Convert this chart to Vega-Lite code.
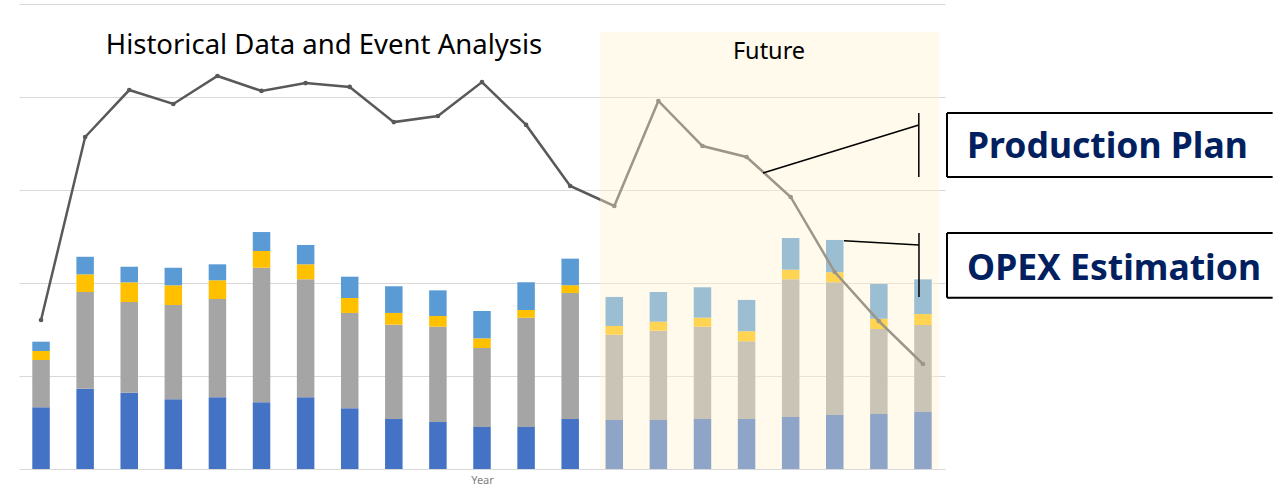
{
  "$schema": "https://vega.github.io/schema/vega-lite/v6.json",
  "width": 926,
  "height": 465,
  "padding": {"left": 19, "top": 4, "right": 0, "bottom": 0},
  "config": {
    "view": {"stroke": null},
    "font": "Noto Sans",
    "axisX": {"labels": false, "ticks": false, "grid": false, "domain": false, "titleColor": "#7f7f7f", "titleFontSize": 11, "titleFontWeight": "normal", "titlePadding": 5},
    "axisY": {"labels": false, "ticks": false, "domain": false, "tickCount": 5, "gridColor": "#d9d9d9", "gridWidth": 1}
  },
  "datasets": {
    "bars": [
      {"i":1,"s":"Series1","v":66.3},{"i":1,"s":"Series2","v":50.9},{"i":1,"s":"Series3","v":9.7},{"i":1,"s":"Series4","v":10.0},
      {"i":2,"s":"Series1","v":86.3},{"i":2,"s":"Series2","v":104.0},{"i":2,"s":"Series3","v":19.0},{"i":2,"s":"Series4","v":18.9},
      {"i":3,"s":"Series1","v":82.0},{"i":3,"s":"Series2","v":97.5},{"i":3,"s":"Series3","v":21.2},{"i":3,"s":"Series4","v":16.8},
      {"i":4,"s":"Series1","v":74.9},{"i":4,"s":"Series2","v":101.4},{"i":4,"s":"Series3","v":21.2},{"i":4,"s":"Series4","v":18.9},
      {"i":5,"s":"Series1","v":77.1},{"i":5,"s":"Series2","v":105.7},{"i":5,"s":"Series3","v":20.1},{"i":5,"s":"Series4","v":17.2},
      {"i":6,"s":"Series1","v":71.7},{"i":6,"s":"Series2","v":144.7},{"i":6,"s":"Series3","v":18.0},{"i":6,"s":"Series4","v":20.4},
      {"i":7,"s":"Series1","v":77.1},{"i":7,"s":"Series2","v":126.9},{"i":7,"s":"Series3","v":16.1},{"i":7,"s":"Series4","v":20.8},
      {"i":8,"s":"Series1","v":65.3},{"i":8,"s":"Series2","v":102.5},{"i":8,"s":"Series3","v":16.1},{"i":8,"s":"Series4","v":22.9},
      {"i":9,"s":"Series1","v":53.8},{"i":9,"s":"Series2","v":101.4},{"i":9,"s":"Series3","v":12.6},{"i":9,"s":"Series4","v":28.7},
      {"i":10,"s":"Series1","v":50.5},{"i":10,"s":"Series2","v":102.5},{"i":10,"s":"Series3","v":11.5},{"i":10,"s":"Series4","v":27.6},
      {"i":11,"s":"Series1","v":45.2},{"i":11,"s":"Series2","v":84.9},{"i":11,"s":"Series3","v":10.4},{"i":11,"s":"Series4","v":29.4},
      {"i":12,"s":"Series1","v":45.2},{"i":12,"s":"Series2","v":117.5},{"i":12,"s":"Series3","v":8.3},{"i":12,"s":"Series4","v":29.8},
      {"i":13,"s":"Series1","v":53.8},{"i":13,"s":"Series2","v":135.5},{"i":13,"s":"Series3","v":8.3},{"i":13,"s":"Series4","v":28.6},
      {"i":14,"s":"Series1","v":52.7},{"i":14,"s":"Series2","v":91.7},{"i":14,"s":"Series3","v":9.4},{"i":14,"s":"Series4","v":31.2},
      {"i":15,"s":"Series1","v":52.7},{"i":15,"s":"Series2","v":96.0},{"i":15,"s":"Series3","v":9.7},{"i":15,"s":"Series4","v":31.9},
      {"i":16,"s":"Series1","v":53.8},{"i":16,"s":"Series2","v":99.2},{"i":16,"s":"Series3","v":9.7},{"i":16,"s":"Series4","v":32.7},
      {"i":17,"s":"Series1","v":53.8},{"i":17,"s":"Series2","v":83.5},{"i":17,"s":"Series3","v":10.8},{"i":17,"s":"Series4","v":33.7},
      {"i":18,"s":"Series1","v":55.9},{"i":18,"s":"Series2","v":148.1},{"i":18,"s":"Series3","v":10.3},{"i":18,"s":"Series4","v":34.1},
      {"i":19,"s":"Series1","v":58.1},{"i":19,"s":"Series2","v":142.7},{"i":19,"s":"Series3","v":10.8},{"i":19,"s":"Series4","v":34.7},
      {"i":20,"s":"Series1","v":59.1},{"i":20,"s":"Series2","v":91.4},{"i":20,"s":"Series3","v":11.1},{"i":20,"s":"Series4","v":37.3},
      {"i":21,"s":"Series1","v":61.3},{"i":21,"s":"Series2","v":93.5},{"i":21,"s":"Series3","v":11.8},{"i":21,"s":"Series4","v":37.3}
    ],
    "line": [
      {"i":1,"v":160.2},{"i":2,"v":357},{"i":3,"v":407.5},{"i":4,"v":392.5},{"i":5,"v":422.6},{"i":6,"v":406.5},{"i":7,"v":415},
      {"i":8,"v":410.8},{"i":9,"v":373},{"i":10,"v":379.6},{"i":11,"v":416},{"i":12,"v":370},{"i":13,"v":304.3},{"i":14,"v":282.8},
      {"i":15,"v":395.7},{"i":16,"v":347.3},{"i":17,"v":335.5},{"i":18,"v":292.5},{"i":19,"v":211.8},{"i":20,"v":159.1},{"i":21,"v":112.9}
    ],
    "future": [{"i":13.676,"i2":21.364,"v":0,"v2":469.9}],
    "callouts": [
      {"i":17.373,"v":318.3,"i2":20.906,"v2":369.9},
      {"i":20.906,"v":382.8,"i2":20.906,"v2":314.0},
      {"i":19.21,"v":245.5,"i2":20.91,"v2":240.9},
      {"i":20.91,"v":253.8,"i2":20.91,"v2":184.9}
    ],
    "boxes": [
      {"i":21.545,"v":382.8,"i2":28.93,"v2":382.8},
      {"i":21.545,"v":314.0,"i2":28.93,"v2":314.0},
      {"i":21.545,"v":382.8,"i2":21.545,"v2":314.0},
      {"i":21.545,"v":253.8,"i2":28.93,"v2":253.8},
      {"i":21.545,"v":184.2,"i2":28.93,"v2":184.2},
      {"i":21.545,"v":253.8,"i2":21.545,"v2":184.2}
    ],
    "boxText": [
      {"i":22.0,"v":334.4,"label":"Production Plan"},
      {"i":22.0,"v":203.2,"label":"OPEX Estimation"}
    ]
  },
  "encoding": {
    "x": {"field": "i", "type": "quantitative", "title": "Year", "scale": {"domain": [0.5, 21.5], "nice": false, "zero": false, "padding": 0}},
    "y": {"field": "v", "type": "quantitative", "title": null, "scale": {"domain": [0, 500], "nice": false, "padding": 0}}
  },
  "layer": [
    {
      "data": {"name": "bars"},
      "mark": {"type": "bar", "width": 17.5},
      "encoding": {
        "y": {"field": "v", "type": "quantitative", "title": null, "stack": "zero", "scale": {"domain": [0, 500], "nice": false, "padding": 0}},
        "color": {"field": "s", "type": "nominal", "legend": null,
                  "scale": {"domain": ["Series1", "Series2", "Series3", "Series4"], "range": ["#4472C4", "#A5A5A5", "#FFC000", "#5B9BD5"]}},
        "order": {"field": "s", "sort": "ascending"}
      }
    },
    {
      "data": {"name": "line"},
      "mark": {"type": "line", "color": "#595959", "strokeWidth": 2.5},
      "encoding": {}
    },
    {
      "data": {"name": "line"},
      "mark": {"type": "point", "filled": true, "color": "#595959", "opacity": 1, "size": 22},
      "encoding": {}
    },
    {
      "data": {"name": "future"},
      "mark": {"type": "rect", "color": "#FFF2CC", "opacity": 0.4},
      "encoding": {
        "x2": {"field": "i2"},
        "y2": {"field": "v2"}
      }
    },
    {
      "data": {"values": [{"i": 7.417, "v": 446.2, "label": "Historical Data and Event Analysis"}]},
      "mark": {"type": "text", "fontSize": 27.5, "color": "#000000", "align": "center", "baseline": "alphabetic"},
      "encoding": {"text": {"field": "label"}}
    },
    {
      "data": {"values": [{"i": 17.509, "v": 440.9, "label": "Future"}]},
      "mark": {"type": "text", "fontSize": 23.5, "color": "#000000", "align": "center", "baseline": "alphabetic"},
      "encoding": {"text": {"field": "label"}}
    },
    {
      "data": {"name": "callouts"},
      "mark": {"type": "rule", "color": "#000000", "strokeWidth": 1.5},
      "encoding": {
        "x2": {"field": "i2"},
        "y2": {"field": "v2"}
      }
    },
    {
      "data": {"name": "boxes"},
      "mark": {"type": "rule", "color": "#000000", "strokeWidth": 2},
      "encoding": {
        "x2": {"field": "i2"},
        "y2": {"field": "v2"}
      }
    },
    {
      "data": {"name": "boxText"},
      "mark": {"type": "text", "fontSize": 35.5, "fontWeight": "bold", "color": "#002060", "align": "left", "baseline": "alphabetic"},
      "encoding": {"text": {"field": "label"}}
    }
  ]
}
